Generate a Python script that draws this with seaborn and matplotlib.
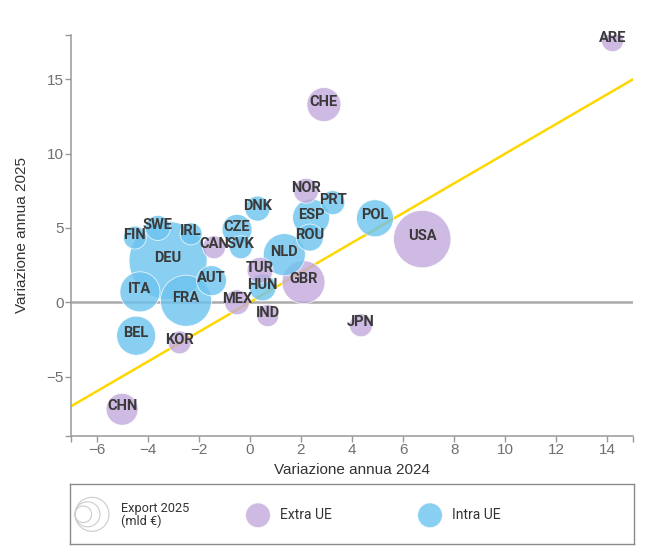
import pandas as pd
import seaborn as sns
import matplotlib.pyplot as plt
from matplotlib.patches import Circle

# values
countries = ['ARE', 'CHE', 'NOR', 'PRT', 'ESP', 'ROU', 'POL', 'USA', 'DNK', 'CZE',
             'SVK', 'CAN', 'NLD', 'TUR', 'HUN', 'GBR', 'MEX', 'IND', 'JPN', 'FIN',
             'SWE', 'IRL', 'DEU', 'AUT', 'ITA', 'FRA', 'BEL', 'KOR', 'CHN']
var_2024 = [14.2, 2.9, 2.2, 3.25, 2.4, 2.35, 4.9, 6.75, 0.3, -0.5,
            -0.35, -1.4, 1.35, 0.4, 0.5, 2.1, -0.5, 0.7, 4.35, -4.5,
            -3.6, -2.3, -3.2, -1.5, -4.3, -2.5, -4.45, -2.75, -5.0]
var_2025 = [17.6, 13.3, 7.5, 6.7, 5.7, 4.35, 5.65, 4.25, 6.3, 4.9,
            3.7, 3.7, 3.2, 2.15, 1.0, 1.35, 0.0, -0.9, -1.55, 4.35,
            5.0, 4.6, 2.8, 1.45, 0.7, 0.1, -2.25, -2.7, -7.2]
export_2025 = [6.0, 14.3, 7.7, 7.1, 16.9, 9.0, 16.9, 40.7, 7.7, 11.1,
               6.5, 6.5, 21.8, 8.3, 9.0, 22.8, 7.7, 6.0, 6.5, 6.5,
               7.7, 6.0, 75.0, 11.1, 19.8, 32.1, 18.8, 6.5, 12.6]
area = ['Extra UE', 'Extra UE', 'Extra UE', 'Intra UE', 'Intra UE', 'Intra UE', 'Intra UE', 'Extra UE', 'Intra UE', 'Intra UE',
        'Intra UE', 'Extra UE', 'Intra UE', 'Extra UE', 'Intra UE', 'Extra UE', 'Extra UE', 'Extra UE', 'Extra UE', 'Intra UE',
        'Intra UE', 'Intra UE', 'Intra UE', 'Intra UE', 'Intra UE', 'Intra UE', 'Intra UE', 'Extra UE', 'Extra UE']
diag = [-7, 15]

colors = {'Extra UE': '#c2a9db', 'Intra UE': '#6cc3ee'}

df = pd.DataFrame({'country': countries, 'x': var_2024, 'y': var_2025,
                   'export': export_2025, 'area': area})
df = df.sort_values('export', ascending=False)

sns.set_theme(style='white')
plt.rcParams['font.family'] = ['Liberation Sans', 'DejaVu Sans']

fig = plt.figure(figsize=(6.54, 5.55), dpi=100)
ax = fig.add_axes([71 / 654, 119 / 555, 562 / 654, 401.3 / 555])

# reference lines behind the bubbles
ax.axhline(0, color='#aaaaaa', lw=1.8, zorder=1)
ax.plot(diag, diag, color='#ffd700', lw=1.8, zorder=1)

sns.scatterplot(data=df, x='x', y='y', hue='area', palette=colors,
                size='export', sizes=(0, 3359), size_norm=(0, 80),
                alpha=0.8, edgecolor='white', linewidth=0.6,
                legend=False, ax=ax, zorder=2)

for _, row in df.iterrows():
    ax.annotate(row['country'], (row['x'], row['y']), xytext=(0, 2),
                textcoords='offset points', ha='center', va='center',
                family='Roboto', fontweight='bold', fontsize=10.5,
                color='#3a3a3a', zorder=3)

ax.set_xlim(-7, 15)
ax.set_ylim(-9, 18)
ax.set_xticks(range(-6, 15, 2))
ax.set_yticks([-5, 0, 5, 10, 15])
ax.set_xticks([-7, 15], minor=True)
ax.set_yticks([-9, 18], minor=True)
sns.despine(ax=ax)
for side in ['left', 'bottom']:
    ax.spines[side].set_color('#999999')
    ax.spines[side].set_linewidth(1.1)
ax.tick_params(axis='both', which='both', bottom=True, left=True, direction='out',
               length=4, width=1, color='#999999', labelcolor='#707070',
               labelsize=11, pad=1)
ax.set_xlabel('Variazione annua 2024', fontsize=11, color='#333333', labelpad=4)
ax.set_ylabel('Variazione annua 2025', fontsize=11, color='#333333', labelpad=13)

# legend box in pixel units
lg = fig.add_axes([70 / 654, 10.7 / 555, 564 / 654, 60 / 555])
lg.set_xlim(0, 564)
lg.set_ylim(0, 60)
lg.set_xticks([])
lg.set_yticks([])
for sp in lg.spines.values():
    sp.set_color('#8a8a8a')
    sp.set_linewidth(1.0)

for r in [17, 12.5, 8.3]:
    lg.add_patch(Circle((5 + r, 30), r, facecolor='none', edgecolor='#cccccc', lw=0.8))
lg.text(51, 29.5, 'Export 2025\n(mld €)', family='Roboto', fontsize=9.2,
        color='#333333', va='center', linespacing=0.95)

for cx, name in [(188, 'Extra UE'), (360, 'Intra UE')]:
    lg.add_patch(Circle((cx, 29), 12.4, facecolor=colors[name], alpha=0.8,
                        edgecolor='white', lw=0.6))
    lg.text(cx + 22.5, 29, name, family='Roboto', fontsize=10, color='#333333', va='center')

fig.savefig('out.png', dpi=100)
